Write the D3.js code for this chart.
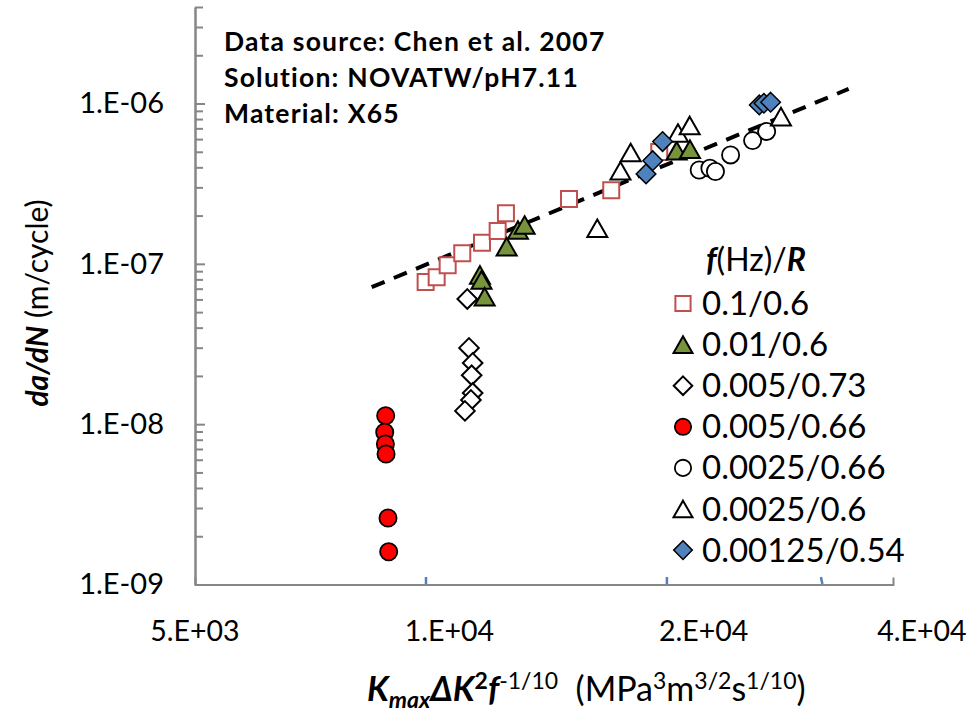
<!DOCTYPE html>
<html>
<head>
<meta charset="utf-8">
<script src="https://cdn.jsdelivr.net/npm/d3@7/dist/d3.min.js"></script>
<style>
  html, body { margin: 0; padding: 0; background: #ffffff; }
  svg { display: block; font-family: Lato, "Noto Sans", sans-serif; }
</style>
</head>
<body>
<svg id="chart" width="971" height="717"></svg>
<script>
// Crack growth rate vs. combined loading parameter, X65 steel in NOVATW solution

// ---- data: [Kmax*dK^2*f^-0.1, da/dN] per loading condition ----
const f01_R060 = [[9374, 7.71e-8], [9660, 8.25e-8], [9954, 9.80e-8], [10358, 1.165e-7], [10930, 1.356e-7],
                  [11407, 1.603e-7], [11667, 2.07e-7], [13855, 2.54e-7], [15545, 2.88e-7], [17717, 4.99e-7]];
const f001_R060 = [[10870, 8.53e-8], [10915, 7.93e-8], [11010, 6.24e-8], [11690, 1.28e-7],
                   [12055, 1.627e-7], [12277, 1.748e-7], [18580, 5.08e-7], [19265, 5.19e-7]];
const f0005_R073 = [[10500, 6.04e-8], [10550, 2.99e-8], [10656, 2.41e-8], [10627, 2.02e-8],
                    [10656, 1.565e-8], [10606, 1.416e-8], [10434, 1.21e-8]];
const f0005_R066 = [[8407, 1.13e-8], [8385, 8.9e-9], [8400, 7.52e-9], [8415, 6.52e-9],
                    [8460, 2.60e-9], [8476, 1.60e-9]];
const f00025_R066 = [[19755, 3.85e-7], [20340, 3.95e-7], [20650, 3.77e-7], [21520, 4.78e-7],
                     [22850, 5.87e-7], [23740, 6.70e-7]];
const f00025_R060 = [[14965, 1.667e-7], [15940, 3.81e-7], [16390, 4.95e-7], [18645, 6.55e-7],
                     [19250, 7.30e-7], [24685, 8.28e-7]];
const f000125_R054 = [[17090, 3.64e-7], [17405, 4.40e-7], [17880, 5.79e-7], [23270, 9.80e-7],
                      [23565, 1.004e-6], [24000, 1.019e-6]];

// power-law fit drawn as a dashed line between its end points
const trendLine = [[8092, 7.15e-8], [29685, 1.233e-6]];

const seriesNames = ["0.1/0.6", "0.01/0.6", "0.005/0.73", "0.005/0.66", "0.0025/0.66", "0.0025/0.6", "0.00125/0.54"];
const xTickValues = [5000, 10000, 20000, 40000];
const xTickLabels = ["5.E+03", "1.E+04", "2.E+04", "4.E+04"];
const yTickValues = [1e-9, 1e-8, 1e-7, 1e-6];
const yTickLabels = ["1.E-09", "1.E-08", "1.E-07", "1.E-06"];
const xAxisMarks = [9383, 18090, 27525];
const noteLines = ["Data source: Chen et al. 2007", "Solution: NOVATW/pH7.11", "Material: X65"];

// ---- styling per series ----
const styles = [
  { data: f01_R060,     shape: "square",   fill: "#ffffff", stroke: "#C0504D", sw: 2 },
  { data: f001_R060,    shape: "triangle", fill: "#77933C", stroke: "#000000", sw: 2 },
  { data: f0005_R073,   shape: "diamond",  fill: "#ffffff", stroke: "#000000", sw: 2 },
  { data: f0005_R066,   shape: "circle",   fill: "#FF0000", stroke: "#000000", sw: 1.8 },
  { data: f00025_R066,  shape: "circle",   fill: "#ffffff", stroke: "#000000", sw: 1.8 },
  { data: f00025_R060,  shape: "triangle", fill: "#ffffff", stroke: "#000000", sw: 2 },
  { data: f000125_R054, shape: "diamond",  fill: "#4F81BD", stroke: "#000000", sw: 1.5 }
];

function markerPath(shape, k) {
  k = k || 1;
  if (shape === "square") { const s = 8 * k; return `M${-s},${-s}H${s}V${s}H${-s}Z`; }
  if (shape === "triangle") { const w = 10 * k, h = 8.8 * k; return `M0,${-h}L${w},${h}L${-w},${h}Z`; }
  if (shape === "diamond") { const d = 9.8 * k; return `M0,${-d}L${d},0L0,${d}L${-d},0Z`; }
  const r = 8.6 * k;
  return `M${r},0A${r},${r} 0 1,1 ${-r},0A${r},${r} 0 1,1 ${r},0Z`;
}

const svg = d3.select("#chart");
svg.append("rect").attr("width", 971).attr("height", 717).attr("fill", "#ffffff");

const x = d3.scaleLog().domain([5000, 33500]).range([195, 893]);
const y = d3.scaleLog().domain([1e-9, 4e-6]).range([584.5, 7]);
const axisColor = "#868686";

// ---- y axis: ticks point into the plot, labels on the left ----
const minorY = [];
[1e-9, 1e-8, 1e-7, 1e-6].forEach(d => { for (let m = 2; m <= 9; m++) { const v = d * m; if (v <= 4.0001e-6) minorY.push(v); } });

const gMinor = svg.append("g").attr("transform", "translate(195,0)")
  .call(d3.axisLeft(y).tickValues(minorY).tickSize(-8).tickSizeOuter(0).tickFormat(""));
const gMajor = svg.append("g").attr("transform", "translate(195,0)")
  .call(d3.axisLeft(y).tickValues(yTickValues).tickSize(-10).tickSizeOuter(0).tickPadding(31)
    .tickFormat((d, i) => yTickLabels[i]));
[gMinor, gMajor].forEach(g => {
  g.selectAll("path.domain").attr("stroke", axisColor).attr("stroke-width", 2);
  g.selectAll(".tick line").attr("stroke", axisColor).attr("stroke-width", 2);
});
gMajor.selectAll(".tick text").attr("fill", "#000").attr("font-size", 29)
  .attr("font-family", "Lato, sans-serif");

// ---- x axis: plain line with an end tick ----
const gx = svg.append("g").attr("transform", "translate(0,584.5)")
  .call(d3.axisBottom(x).tickValues([]).tickSizeOuter(-7));
gx.selectAll("path.domain").attr("stroke", axisColor).attr("stroke-width", 2).attr("fill", "none");

svg.append("g").selectAll("line").data(xAxisMarks).join("line")
  .attr("x1", d => x(d)).attr("x2", (d, i) => x(d) + (i === 2 ? 1.5 : 0))
  .attr("y1", 577).attr("y2", 584)
  .attr("stroke", "#4F81BD").attr("stroke-width", 2.5);

svg.append("g").selectAll("text").data(xTickValues).join("text")
  .attr("x", d => Math.min(x(d), 922)).attr("y", 641)
  .attr("text-anchor", "middle").attr("font-size", 28.5)
  .text((d, i) => xTickLabels[i]);

// ---- trend line ----
svg.append("path")
  .attr("d", d3.line().x(d => x(d[0])).y(d => y(d[1]))(trendLine))
  .attr("stroke", "#000").attr("stroke-width", 4).attr("fill", "none")
  .attr("stroke-dasharray", "14,10");

// ---- markers ----
styles.forEach(s => {
  svg.append("g").selectAll("path").data(s.data).join("path")
    .attr("transform", d => `translate(${x(d[0])},${y(d[1])})`)
    .attr("d", markerPath(s.shape))
    .attr("fill", s.fill).attr("stroke", s.stroke).attr("stroke-width", s.sw);
});

// ---- legend ----
const legend = svg.append("g");
const lt = legend.append("text").attr("x", 706).attr("y", 271).attr("font-size", 32);
lt.append("tspan").attr("font-weight", 700).attr("font-style", "italic").text("f");
lt.append("tspan").text("(Hz)/");
lt.append("tspan").attr("font-weight", 700).attr("font-style", "italic").text("R");

styles.forEach((s, i) => {
  const cy = 303.5 + i * 41.1;
  legend.append("path").attr("transform", `translate(683,${cy})`)
    .attr("d", markerPath(s.shape, 0.95))
    .attr("fill", s.fill).attr("stroke", s.stroke).attr("stroke-width", s.sw);
  legend.append("text").attr("x", 702).attr("y", cy + 11.5).attr("font-size", 33)
    .text(seriesNames[i]);
});

// ---- notes ----
svg.append("g").selectAll("text").data(noteLines).join("text")
  .attr("x", 224).attr("y", (d, i) => 51 + i * 36)
  .attr("font-size", 26.5).attr("font-weight", 700).attr("letter-spacing", 1.2).text(d => d);

// ---- y title ----
const yt = svg.append("text")
  .attr("transform", "translate(48,303) rotate(-90)")
  .attr("text-anchor", "middle").attr("font-size", 30);
yt.append("tspan").attr("font-weight", 700).attr("font-style", "italic").text("da/dN");
yt.append("tspan").text(" (m/cycle)");

// ---- x title ----
const xt = svg.append("text").attr("x", 367).attr("y", 701).attr("font-size", 34);
const bi = t => xt.append("tspan").attr("font-weight", 700).attr("font-style", "italic").text(t);
bi("K");
xt.append("tspan").attr("font-weight", 700).attr("font-style", "italic").attr("font-size", 23).attr("dy", 7).text("max");
xt.append("tspan").attr("font-weight", 700).attr("font-style", "italic").attr("dy", -7).text("ΔK");
xt.append("tspan").attr("font-weight", 700).attr("font-size", 23).attr("dy", -12).text("2");
xt.append("tspan").attr("font-weight", 700).attr("font-style", "italic").attr("dy", 12).text("f");
xt.append("tspan").attr("font-size", 23).attr("dy", -12).text("-1/10");
xt.append("tspan").attr("dy", 12).attr("xml:space", "preserve").text("\u00a0 (MPa");
xt.append("tspan").attr("font-size", 23).attr("dy", -12).text("3");
xt.append("tspan").attr("dy", 12).text("m");
xt.append("tspan").attr("font-size", 23).attr("dy", -12).text("3/2");
xt.append("tspan").attr("dy", 12).text("s");
xt.append("tspan").attr("font-size", 23).attr("dy", -12).text("1/10");
xt.append("tspan").attr("dy", 12).text(")");
</script>
</body>
</html>
